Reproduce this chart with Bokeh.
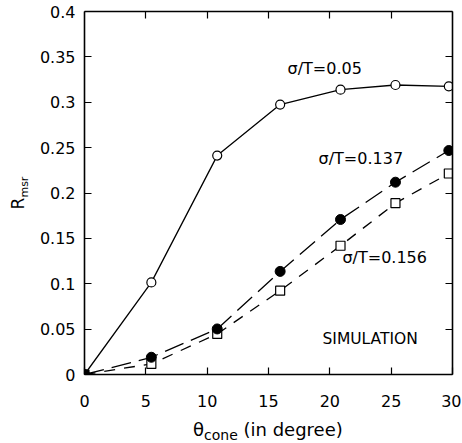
from bokeh.plotting import figure
from bokeh.models import LinearAxis, FixedTicker, Label, Range1d, Div
from bokeh.layouts import row, column
from bokeh.embed import file_html
from bokeh.resources import INLINE

# ---- data ----
theta = [0, 5.45, 10.82, 15.95, 20.87, 25.35, 29.7]
r_005 = [0.0, 0.1015, 0.2412, 0.2974, 0.3139, 0.319, 0.3175]
r_0137 = [0.0, 0.019, 0.0502, 0.1136, 0.1708, 0.2119, 0.2468]
r_0156 = [0.0, 0.0117, 0.0447, 0.0924, 0.1419, 0.1888, 0.2215]

x_ticks = [0, 5, 10, 15, 20, 25, 30]
y_ticks = [0, 0.05, 0.1, 0.15, 0.2, 0.25, 0.3, 0.35, 0.4]
y_tick_labels = ["0", "0.05", "0.1", "0.15", "0.2", "0.25", "0.3", "0.35", "0.4"]

FONT = "DejaVu Sans"

p = figure(frame_width=368, frame_height=363,
           x_range=Range1d(0, 30), y_range=Range1d(0, 0.4),
           output_backend="svg", toolbar_location=None,
           min_border_left=48, min_border_right=9,
           min_border_top=11, min_border_bottom=44, margin=0)
p.grid.visible = False
p.outline_line_color = None

def style_axis(ax, ticks, show_labels):
    ax.ticker = FixedTicker(ticks=ticks)
    ax.axis_line_color = "black"
    ax.axis_line_width = 1.6
    ax.major_tick_line_color = "black"
    ax.major_tick_line_width = 1.2
    ax.major_tick_in = 7
    ax.major_tick_out = 0
    ax.minor_tick_line_color = None
    ax.major_label_text_font = FONT
    ax.major_label_text_color = "black"
    if not show_labels:
        ax.major_label_text_font_size = "0px"
        ax.major_label_standoff = 0

style_axis(p.xaxis[0], x_ticks, True)
style_axis(p.yaxis[0], y_ticks, True)
p.xaxis[0].major_label_text_font_size = "16px"
p.xaxis[0].major_label_standoff = 20
p.yaxis[0].major_label_text_font_size = "16px"
p.yaxis[0].major_label_standoff = 9
p.yaxis[0].major_label_overrides = {t: s for t, s in zip(y_ticks, y_tick_labels)}

top = LinearAxis()
style_axis(top, x_ticks[1:-1], False)
p.add_layout(top, "above")
right = LinearAxis()
style_axis(right, y_ticks, False)
p.add_layout(right, "right")

# ---- series ----
p.line(theta, r_005, line_color="black", line_width=1.3)
p.line(theta, r_0137, line_color="black", line_width=1.3, line_dash="20 8")
p.line(theta, r_0156, line_color="black", line_width=1.3, line_dash="11 9")

p.scatter(theta, r_005, marker="circle", size=9, fill_color="white",
          line_color="black", line_width=1.2)
square_fill = ["black"] + ["white"] * (len(theta) - 1)
p.scatter(theta, r_0156, marker="square", size=9, fill_color=square_fill,
          line_color="black", line_width=1.2)
p.scatter(theta, r_0137, marker="circle", size=10, fill_color="black",
          line_color="black")

# ---- annotations ----
def lab(x, y, text, size, **kw):
    l = Label(x=x, y=y, text=text, text_font=FONT, text_font_size=size,
              text_color="black", **kw)
    p.add_layout(l)

lab(16.55, 0.327, "σ/T=0.05", "16px")
lab(19.08, 0.228, "σ/T=0.137", "16px")
lab(21.03, 0.118, "σ/T=0.156", "16px")
lab(19.4, 0.029, "SIMULATION", "15.5px")

# ---- axis titles as HTML text ----
ytitle = Div(width=36, height=418, margin=0, text=(
    "<div style=\"position:relative;width:36px;height:418px;\">"
    "<span style=\"position:absolute;left:19px;top:193px;"
    "transform:translate(-50%,-50%) rotate(-90deg);white-space:nowrap;"
    "font-family:'DejaVu Sans';font-size:17px;line-height:17px;color:black;\">"
    "R<span style=\"font-size:11px;position:relative;top:4px;\">msr</span>"
    "</span></div>"))

xtitle = Div(width=425, height=24, margin=0, text=(
    "<div style=\"position:relative;width:425px;height:24px;\">"
    "<span style=\"position:absolute;left:157px;top:3px;white-space:nowrap;"
    "font-family:'DejaVu Sans';font-size:18px;line-height:18px;color:black;\">"
    "θ<span style=\"font-size:14px;position:relative;top:4px;\">cone</span>"
    " (in degree)</span></div>"))

layout = row(ytitle, column(p, xtitle, spacing=0, margin=0), spacing=0, margin=0)

open("out.html", "w").write(file_html(layout, INLINE))
